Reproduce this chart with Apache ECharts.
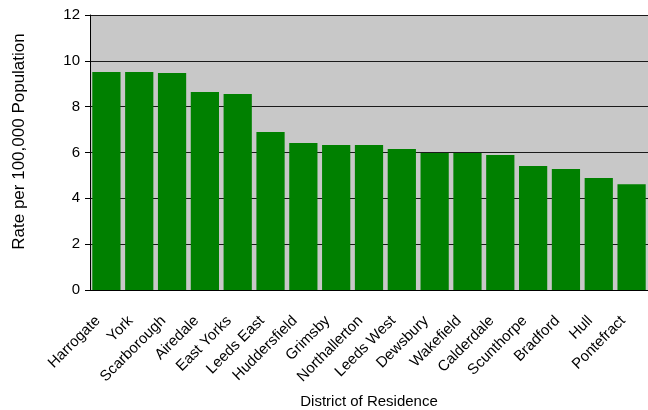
<!DOCTYPE html>
<html>
<head>
<meta charset="utf-8">
<script src="https://cdn.jsdelivr.net/npm/echarts@6/dist/echarts.min.js"></script>
<style>
html,body{margin:0;padding:0;background:#fff;}
#chart{width:648px;height:410px;}
</style>
</head>
<body>
<div id="chart"></div>
<script>
const categories = ["Harrogate","York","Scarborough","Airedale","East Yorks","Leeds East","Huddersfield","Grimsby","Northallerton","Leeds West","Dewsbury","Wakefield","Calderdale","Scunthorpe","Bradford","Hull","Pontefract"];
const rates = [9.51,9.51,9.47,8.64,8.55,6.89,6.41,6.33,6.33,6.15,5.98,5.98,5.89,5.41,5.28,4.89,4.62];
const yTicks = [0,2,4,6,8,10,12];
const xTitle = "District of Residence";
const yTitle = "Rate per 100,000 Population";

const FONT = "Liberation Sans, Arial, sans-serif";
const chart = echarts.init(document.getElementById('chart'), null, {renderer:'canvas'});
chart.setOption({
  animation:false,
  textStyle:{fontFamily:FONT, color:'#000'},
  grid:{left:90, right:0, top:15, bottom:120, show:true, backgroundColor:'#c8c8c8', borderWidth:0, containLabel:false, outerBoundsMode:'none'},
  xAxis:{
    type:'category',
    data:categories,
    name:xTitle,
    nameLocation:'middle',
    nameGap:104,
    nameMoveOverlap:false,
    nameTextStyle:{fontSize:15, color:'#000', fontFamily:FONT},
    axisLine:{show:true, lineStyle:{color:'#000', width:1}},
    axisTick:{show:false},
    axisLabel:{interval:0, rotate:45, margin:20, padding:[0,12,0,0], fontSize:15, color:'#000', fontFamily:FONT},
    splitLine:{show:false}
  },
  yAxis:{
    type:'value',
    min:yTicks[0], max:yTicks[yTicks.length-1], interval:2,
    name:yTitle,
    nameLocation:'middle',
    nameGap:62,
    nameMoveOverlap:false,
    nameTextStyle:{fontSize:17, color:'#000', fontFamily:FONT, padding:[0,0,0,22]},
    axisLine:{show:true, lineStyle:{color:'#000', width:1}},
    axisTick:{show:true, inside:false, length:5, lineStyle:{color:'#000'}},
    axisLabel:{margin:10, fontSize:15, color:'#000', fontFamily:FONT, padding:[3,0,0,0]},
    splitLine:{show:true, lineStyle:{color:'#1a1a1a', width:1}}
  },
  series:[{
    type:'bar',
    data:rates,
    barCategoryGap:'14%',
    itemStyle:{color:'#008000'}
  }]
});
</script>
</body>
</html>
